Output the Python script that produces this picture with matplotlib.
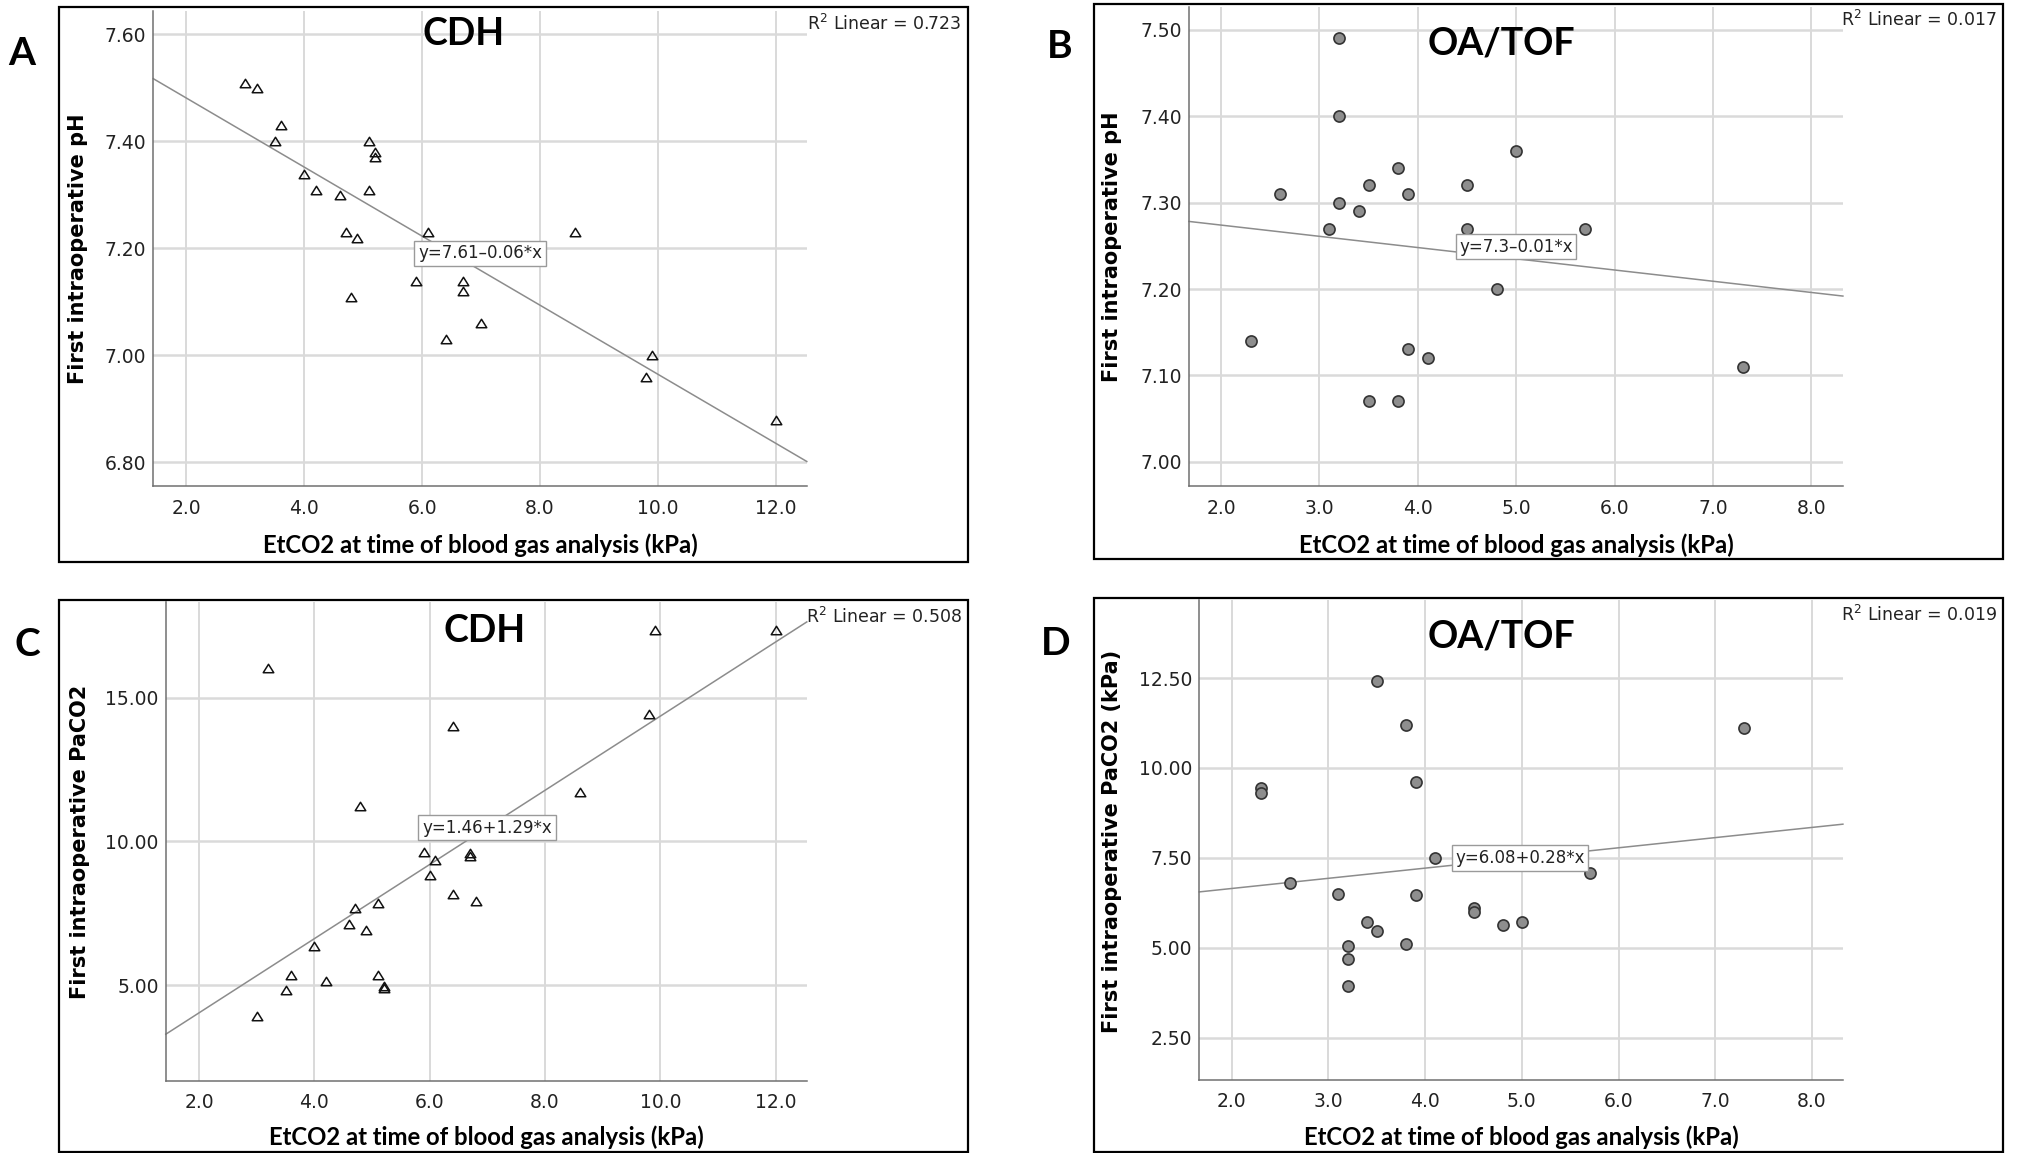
import numpy as np
import matplotlib.pyplot as plt
from matplotlib.patches import Rectangle
from matplotlib.path import Path

W, H = 2028, 1153

# CDH: EtCO2 vs first intraoperative pH
cdh_etco2_ph = [3.0, 3.2, 3.6, 3.5, 4.0, 4.2, 4.6, 5.1, 5.2, 5.2, 5.1, 4.7,
                4.9, 6.1, 8.6, 5.9, 6.7, 6.7, 4.8, 7.0, 6.4, 9.9, 9.8, 12.0]
cdh_ph = [7.51, 7.50, 7.43, 7.40, 7.34, 7.31, 7.30, 7.40, 7.38, 7.37, 7.31, 7.23,
          7.22, 7.23, 7.23, 7.14, 7.14, 7.12, 7.11, 7.06, 7.03, 7.00, 6.96, 6.88]
cdh_ph_fit = (7.61, -0.0645)     # intercept, slope
cdh_ph_r2 = "0.723"

# OA/TOF: EtCO2 vs first intraoperative pH
oa_etco2_ph = [3.2, 3.2, 5.0, 3.8, 3.5, 4.5, 2.6, 3.9, 3.2, 3.4, 3.1, 4.5,
               5.7, 4.8, 2.3, 3.9, 4.1, 7.3, 3.5, 3.8]
oa_ph = [7.49, 7.40, 7.36, 7.34, 7.32, 7.32, 7.31, 7.31, 7.30, 7.29, 7.27, 7.27,
         7.27, 7.20, 7.14, 7.13, 7.12, 7.11, 7.07, 7.07]
oa_ph_fit = (7.30, -0.013)
oa_ph_r2 = "0.017"

# CDH: EtCO2 vs first intraoperative PaCO2
cdh_etco2_paco2 = [3.2, 9.9, 12.0, 9.8, 6.4, 8.6, 4.8, 5.9, 6.1, 6.7, 6.7, 6.0, 6.4,
                   6.8, 5.1, 4.7, 4.6, 4.9, 4.0, 3.6, 4.2, 5.1, 5.2, 5.2, 3.5, 3.0]
cdh_paco2 = [16.03, 17.35, 17.35, 14.43, 14.02, 11.72, 11.23, 9.64, 9.36, 9.60, 9.50,
             8.82, 8.18, 7.94, 7.86, 7.68, 7.13, 6.93, 6.37, 5.37, 5.14, 5.34, 4.97,
             4.92, 4.83, 3.93]
cdh_paco2_fit = (1.46, 1.29)
cdh_paco2_r2 = "0.508"

# OA/TOF: EtCO2 vs first intraoperative PaCO2 (kPa)
oa_etco2_paco2 = [3.5, 3.8, 7.3, 2.3, 2.3, 3.9, 4.1, 5.7, 2.6, 3.1, 3.9, 4.5, 4.5,
                  4.8, 5.0, 3.4, 3.5, 3.8, 3.2, 3.2, 3.2]
oa_paco2 = [12.41, 11.20, 11.11, 9.43, 9.31, 9.60, 7.50, 7.09, 6.81, 6.48, 6.46, 6.11,
            5.98, 5.64, 5.72, 5.70, 5.46, 5.11, 5.04, 4.68, 3.92]
oa_paco2_fit = (6.08, 0.283)
oa_paco2_r2 = "0.019"

xlabel = "EtCO2 at time of blood gas analysis (kPa)"

fig = plt.figure(figsize=(W / 100, H / 100), dpi=100)


def fx(px):
    return px / W


def fy(py):
    return 1 - py / H


# open triangle, a little wider than tall
tri = Path([(-1, -0.8), (1, -0.8), (0, 0.8), (-1, -0.8)], closed=True)


def num(v):
    return f"{abs(v):.2f}".rstrip("0").rstrip(".")


def panel(rect, box, x, y, fit, xlim, ylim, xticks, yticks, marker,
          letter, letter_xy, title, title_xy, r2, r2_xy, eq_xy, xlabel_y,
          ylabel, ylabel_xy):
    l, t, r, b = rect
    ax = fig.add_axes([fx(l), fy(b), fx(r - l), (b - t) / H])
    ax.set_xlim(*xlim)
    ax.set_ylim(*ylim)
    ax.set_xticks(xticks)
    ax.set_xticklabels([f"{v:.1f}" for v in xticks])
    ax.set_yticks(yticks)
    ax.set_yticklabels([f"{v:.2f}" for v in yticks])
    ax.tick_params(length=0, labelsize=13.5, colors="#222222")
    ax.tick_params(axis="x", pad=9)
    ax.tick_params(axis="y", pad=5)
    for s in ["top", "right"]:
        ax.spines[s].set_visible(False)
    for s in ["left", "bottom"]:
        ax.spines[s].set_color("#707070")
        ax.spines[s].set_linewidth(1.1)
    ax.grid(axis="y", color="#dadada", lw=1.8)
    ax.grid(axis="x", color="#cfcfcf", lw=1.1)
    ax.set_axisbelow(True)

    if marker == "tri":
        ax.plot(x, y, ls="none", marker=tri, ms=7.6, mfc="none", mec="#111111",
                mew=1.1, zorder=3)
    else:
        ax.plot(x, y, ls="none", marker="o", ms=8, mfc="#8e8e8e", mec="#333333",
                mew=1.2, zorder=3)

    # regression line across the full x range
    icpt, slope = fit
    xx = np.array(xlim)
    ax.plot(xx, icpt + slope * xx, color="#8c8c8c", lw=1.1, zorder=2, clip_on=False)
    sign = "+" if slope >= 0 else "\u2013"
    eq = f"y={num(icpt)}{sign}{num(slope)}*x"

    bl, bt, br, bb = box
    fig.patches.append(Rectangle((fx(bl), fy(bb)), fx(br - bl), (bb - bt) / H,
                                 transform=fig.transFigure, fill=False,
                                 ec="black", lw=1.6))

    fig.text(fx(letter_xy[0]), fy(letter_xy[1]), letter, family="Lato",
             weight="bold", fontsize=28, ha="center", va="baseline")
    fig.text(fx(title_xy[0]), fy(title_xy[1]), title, family="Lato",
             weight="bold", fontsize=27, ha="center", va="baseline")
    fig.text(fx(r2_xy[0]), fy(r2_xy[1]), "R$^2$ Linear = " + r2, fontsize=12.5,
             ha="right", va="center", color="#222222")
    fig.text(fx(eq_xy[0]), fy(eq_xy[1]), eq, fontsize=12, ha="center",
             va="center", color="#222222", zorder=5,
             bbox=dict(boxstyle="square,pad=0.22", fc="white", ec="#9a9a9a", lw=1))
    fig.text(fx((l + r) / 2 + 0), fy(xlabel_y), xlabel, family="Lato",
             weight="bold", fontsize=17.2, ha="center", va="center")
    fig.text(fx(ylabel_xy[0]), fy(ylabel_xy[1]), ylabel, weight="bold",
             fontsize=15, rotation=90, ha="center", va="center")
    return ax


panel((153.3, 10.9, 806.8, 486), (58.7, 7.3, 967.5, 561.7),
      cdh_etco2_ph, cdh_ph, cdh_ph_fit, (1.437, 12.53), (6.756, 7.644),
      [2, 4, 6, 8, 10, 12], [6.8, 7.0, 7.2, 7.4, 7.6], "tri",
      "A", (22, 65), "CDH", (464, 45), cdh_ph_r2, (962, 24),
      (480, 253.5), 545, "First intraoperative pH", (78, 249))

panel((1189, 6.5, 1842.9, 486), (1093.7, 4.4, 2002.6, 558.7),
      oa_etco2_ph, oa_ph, oa_ph_fit, (1.675, 8.32), (6.972, 7.527),
      [2, 3, 4, 5, 6, 7, 8], [7.0, 7.1, 7.2, 7.3, 7.4, 7.5], "circ",
      "B", (1060, 58), "OA/TOF", (1501, 54.5), oa_ph_r2, (1997, 20),
      (1516, 246.5), 545, "First intraoperative pH", (1112, 247))

panel((165.8, 602, 806.8, 1080.7), (58.7, 600, 967.5, 1151.5),
      cdh_etco2_paco2, cdh_paco2, cdh_paco2_fit, (1.424, 12.54), (1.68, 18.33),
      [2, 4, 6, 8, 10, 12], [5, 10, 15], "tri",
      "C", (27, 656), "CDH", (485, 642), cdh_paco2_r2, (962, 616.5),
      (487, 827.6), 1137, "First intraoperative PaCO2", (80, 842))

panel((1199.3, 600, 1842.9, 1079.6), (1093.7, 598.3, 2002.6, 1151.5),
      oa_etco2_paco2, oa_paco2, oa_paco2_fit, (1.664, 8.32), (1.33, 14.67),
      [2, 3, 4, 5, 6, 7, 8], [2.5, 5.0, 7.5, 10.0, 12.5], "circ",
      "D", (1056, 655), "OA/TOF", (1501, 647.6), oa_paco2_r2, (1997, 614.7),
      (1520, 858), 1137, "First intraoperative PaCO2 (kPa)", (1112, 841))

fig.savefig("out.png", dpi=100)
